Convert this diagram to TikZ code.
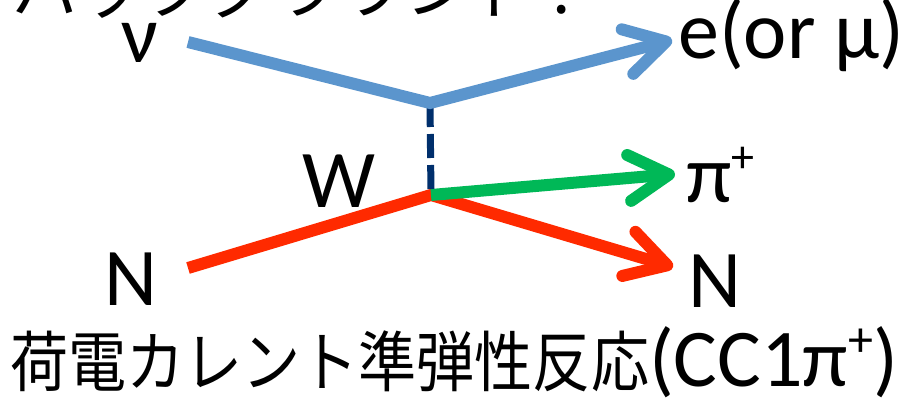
\documentclass[tikz,border=0pt]{standalone}
\usepackage{fontspec}
\setmainfont{Carlito}
\newfontfamily\jp{Noto Sans CJK JP}
\usetikzlibrary{arrows.meta}
\definecolor{nublue}{HTML}{5B95CD}
\definecolor{wnavy}{HTML}{002F6C}
\definecolor{pigreen}{HTML}{00B857}
\definecolor{nred}{HTML}{FF2A00}
\begin{document}
\begin{tikzpicture}[x=1pt,y=-1pt,
  lbl/.style={inner sep=0pt, font=\fontsize{82}{96}\selectfont},
  leg/.style={line width=12pt, line join=miter},
  barb/.style={-{Straight Barb[length=40pt,width=46pt,round]}},
]
\clip (0,0) rectangle (915,399);
\useasboundingbox (0,0) rectangle (915,399);
\coordinate (nuin) at (188,42);
\coordinate (v1) at (430,103);
\coordinate (nuout) at (672,40);
\coordinate (v2) at (431,195);
\coordinate (piout) at (675,174);
\coordinate (Nin) at (188,268);
\coordinate (Nout) at (673,267);
% lines
\draw[leg, nred, barb] (Nin) -- (v2) -- (Nout);
\draw[leg, pigreen, barb, line cap=butt] (v2) -- (piout);
\draw[wnavy, line width=7pt, dash pattern=on 24pt off 7pt] (v1) -- (v2);
\draw[leg, nublue, barb] (nuin) -- (v1) -- (nuout);
% labels
\node[lbl, anchor=base] (nu) at (140,62) {ν};
\node[lbl, anchor=base west] (e) at (678,58) {e(or μ)};
\node[lbl, anchor=base] (W) at (339,207) {W};
\node[lbl, anchor=base west] (pi) at (686,202) {π\raisebox{30pt}{\fontsize{46}{50}\selectfont +}};
\node[lbl, anchor=base] (N2) at (715,307) {N};
\node[lbl, anchor=base] (N1) at (131,305) {N};
\node[inner sep=0pt, anchor=base west] (title) at (10,386)
  {\scalebox{0.88}[1]{\jp\fontsize{66}{70}\selectfont 荷電カレント準弾性反応}{\fontsize{82}{96}\selectfont (CC1π\raisebox{30pt}{\fontsize{50}{54}\selectfont +})}};
\node[inner sep=0pt, anchor=base west] (bg) at (12,13)
  {\jp\fontsize{66}{70}\selectfont バックグラウンド :};
\end{tikzpicture}
\end{document}
